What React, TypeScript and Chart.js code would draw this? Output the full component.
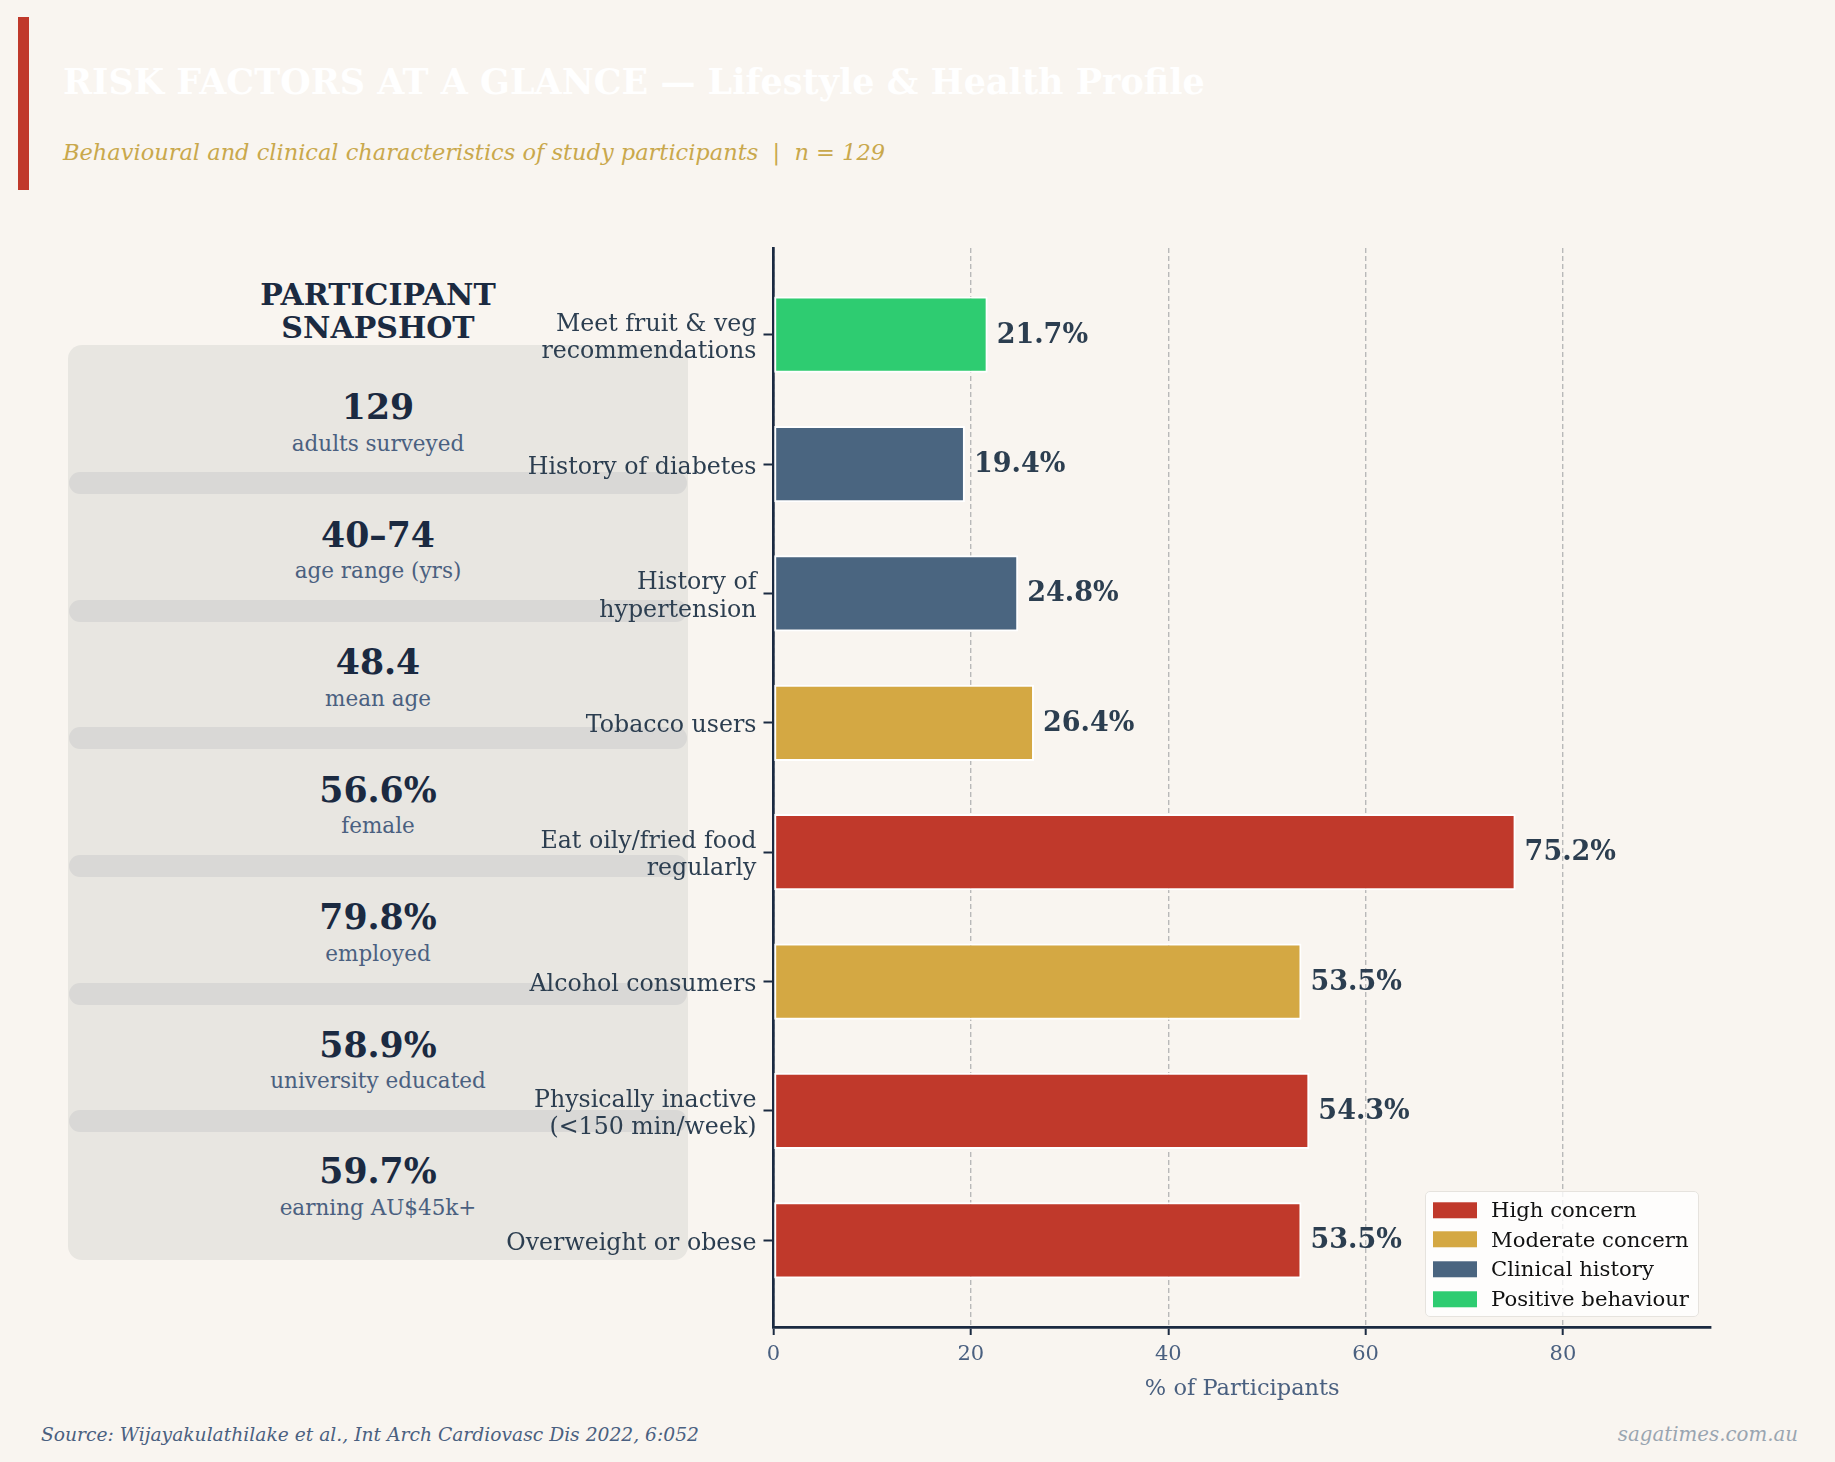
import { useEffect, useRef } from "react";
import { Chart, registerables } from "chart.js";

Chart.register(...registerables);

// Risk factor categories (top to bottom) and share of participants (%)
const categories: (string | string[])[] = [
  ["Meet fruit & veg", "recommendations"],
  "History of diabetes",
  ["History of", "hypertension"],
  "Tobacco users",
  ["Eat oily/fried food", "regularly"],
  "Alcohol consumers",
  ["Physically inactive", "(<150 min/week)"],
  "Overweight or obese",
];
const percentages = [21.7, 19.4, 24.8, 26.4, 75.2, 53.5, 54.3, 53.5];
// index into groupNames / groupColors for each category
const groupOfCategory = [3, 2, 2, 1, 0, 1, 0, 0];
const groupNames = ["High concern", "Moderate concern", "Clinical history", "Positive behaviour"];
const groupColors = ["#C0392B", "#D4A843", "#4A6580", "#2ECC71"];
const xTicks = [0, 20, 40, 60, 80];
const xMax = 95;

// Participant snapshot panel
const snapshotValues = ["129", "40–74", "48.4", "56.6%", "79.8%", "58.9%", "59.7%"];
const snapshotLabels = [
  "adults surveyed",
  "age range (yrs)",
  "mean age",
  "female",
  "employed",
  "university educated",
  "earning AU$45k+",
];

const FONT = "'DejaVu Serif', 'Liberation Serif', serif";
const BG = "#F9F5F0";
const NAVY = "#1B2A41";
const SLATE = "#4A6080";
const DARK = "#2C3E50";

const valueLabelPlugin = {
  id: "valueLabels",
  afterDatasetsDraw(chart: any) {
    const { ctx } = chart;
    const meta = chart.getDatasetMeta(0);
    ctx.save();
    ctx.font = `bold 27px ${FONT}`;
    ctx.fillStyle = DARK;
    ctx.textAlign = "left";
    ctx.textBaseline = "middle";
    meta.data.forEach((bar: any, i: number) => {
      ctx.fillText(`${percentages[i].toFixed(1)}%`, bar.x + 9, bar.y + 1);
    });
    ctx.restore();
  },
};

function RiskChart() {
  const ref = useRef<HTMLCanvasElement>(null);
  useEffect(() => {
    if (!ref.current) return;
    const chart = new Chart(ref.current, {
      type: "bar",
      data: {
        datasets: [
          {
            data: percentages.map((v, i) => ({ x: v, y: i })),
            backgroundColor: groupOfCategory.map((g) => groupColors[g]),
            borderColor: "#FFFFFF",
            borderWidth: 2,
            borderSkipped: false,
            barPercentage: 0.59,
            categoryPercentage: 1,
          },
        ],
      },
      options: {
        indexAxis: "y",
        animation: false,
        responsive: false,
        devicePixelRatio: 1,
        layout: { padding: { left: 473.5, right: 124, top: 248, bottom: 55 } },
        plugins: { legend: { display: false }, tooltip: { enabled: false } },
        scales: {
          x: {
            type: "linear",
            min: 0,
            max: xMax,
            afterBuildTicks: (scale: any) => {
              scale.ticks = xTicks.map((v) => ({ value: v }));
            },
            afterFit: (scale: any) => {
              scale.height = 80;
            },
            ticks: {
              color: SLATE,
              font: { family: FONT, size: 21 },
              padding: 7,
            },
            grid: {
              color: "#B9B9B9",
              lineWidth: 1.4,
              drawOnChartArea: true,
              tickColor: NAVY,
              tickLength: 8,
              tickWidth: 2,
            },
            border: { color: NAVY, width: 2.7, dash: [5, 3] },
            title: {
              display: true,
              text: "% of Participants",
              color: SLATE,
              font: { family: FONT, size: 22.5 },
              padding: { top: 4, bottom: 4 },
            },
          },
          y: {
            type: "linear",
            reverse: true,
            offset: false,
            min: -0.67,
            max: categories.length - 1 + 0.67,
            afterBuildTicks: (scale: any) => {
              scale.ticks = categories.map((_, i) => ({ value: i }));
            },
            afterFit: (scale: any) => {
              scale.width = 300;
            },
            ticks: {
              autoSkip: false,
              color: DARK,
              font: { family: FONT, size: 23.7, lineHeight: 1.15 },
              padding: 7,
              labelOffset: 3.5,
              callback: (v: any) => categories[Number(v)] as any,
            },
            grid: {
              offset: false,
              drawOnChartArea: false,
              tickColor: NAVY,
              tickLength: 10,
              tickWidth: 2,
            },
            border: { color: NAVY, width: 2.7 },
          },
        },
      } as any,
      plugins: [valueLabelPlugin],
    });
    return () => chart.destroy();
  }, []);
  return (
    <canvas
      ref={ref}
      width={1835}
      height={1462}
      style={{ position: "absolute", left: 0, top: 0, width: 1835, height: 1462, zIndex: 1 }}
    />
  );
}

export default function App() {
  const separatorYs = [483, 611, 738, 866, 994, 1121];
  const valueYs = [407, 535, 662, 790, 917, 1045, 1171];
  const labelYs = [443.5, 571, 699, 826, 954, 1081, 1208];
  const abs = (extra: any) => ({ position: "absolute" as const, ...extra });
  return (
    <div
      style={{
        position: "fixed",
        left: 0,
        top: 0,
        width: 1835,
        height: 1462,
        background: BG,
        fontFamily: FONT,
        overflow: "hidden",
      }}
    >
      {/* header */}
      <div style={abs({ left: 18, top: 17, width: 11, height: 173, background: "#C0392B" })} />
      <div
        style={abs({
          left: 63,
          top: 82,
          transform: "translateY(-50%)",
          color: "#FFFFFF",
          fontWeight: "bold",
          fontSize: 35,
          lineHeight: 1.2,
          whiteSpace: "nowrap",
        })}
      >
        RISK FACTORS AT A GLANCE — Lifestyle &amp; Health Profile
      </div>
      <div
        style={abs({
          left: 63,
          top: 152,
          transform: "translateY(-50%)",
          color: "#C9A84C",
          fontStyle: "italic",
          fontSize: 22.5,
          lineHeight: 1.2,
          whiteSpace: "pre",
        })}
      >
        {"Behavioural and clinical characteristics of study participants  |  n = 129"}
      </div>

      {/* participant snapshot panel */}
      <div
        style={abs({
          left: 68,
          width: 620,
          top: 311,
          transform: "translateY(-50%)",
          textAlign: "center",
          color: NAVY,
          fontWeight: "bold",
          fontSize: 30,
          lineHeight: "33px",
        })}
      >
        PARTICIPANT
        <br />
        SNAPSHOT
      </div>
      <div style={abs({ left: 68, top: 345, width: 620, height: 915, background: "#E8E6E1", borderRadius: 14 })} />
      {separatorYs.map((y, i) => (
        <div
          key={`s${i}`}
          style={abs({ left: 69, top: y - 11, width: 618, height: 22, background: "#D9D8D6", borderRadius: 11 })}
        />
      ))}
      {snapshotValues.map((v, i) => (
        <div
          key={`v${i}`}
          style={abs({
            left: 68,
            width: 620,
            top: valueYs[i],
            transform: "translateY(-50%)",
            textAlign: "center",
            color: NAVY,
            fontWeight: "bold",
            fontSize: 34.7,
            lineHeight: 1.2,
          })}
        >
          {v}
        </div>
      ))}
      {snapshotLabels.map((t, i) => (
        <div
          key={`l${i}`}
          style={abs({
            left: 68,
            width: 620,
            top: labelYs[i],
            transform: "translateY(-50%)",
            textAlign: "center",
            color: SLATE,
            fontSize: 21.5,
            lineHeight: 1.2,
          })}
        >
          {t}
        </div>
      ))}

      <RiskChart />

      {/* legend */}
      <div
        style={abs({
          left: 1425,
          top: 1191,
          width: 274,
          height: 126,
          zIndex: 2,
          background: "rgba(255,255,255,0.8)",
          border: "1px solid #E6E3DE",
          borderRadius: 5,
          boxSizing: "border-box",
        })}
      >
        {groupNames.map((name, i) => (
          <div
            key={name}
            style={abs({ left: 7, top: 18 + i * 29.7, transform: "translateY(-50%)", display: "flex", alignItems: "center" })}
          >
            <span style={{ display: "inline-block", width: 44, height: 16, background: groupColors[i] }} />
            <span style={{ marginLeft: 14, fontSize: 21.2, color: "#111111", lineHeight: 1.2, whiteSpace: "nowrap" }}>
              {name}
            </span>
          </div>
        ))}
      </div>

      {/* footer */}
      <div
        style={abs({
          left: 41,
          top: 1435,
          transform: "translateY(-50%)",
          color: SLATE,
          fontStyle: "italic",
          fontSize: 18.7,
          lineHeight: 1.2,
          whiteSpace: "nowrap",
        })}
      >
        Source: Wijayakulathilake et al., Int Arch Cardiovasc Dis 2022, 6:052
      </div>
      <div
        style={abs({
          right: 1835 - 1798,
          top: 1435,
          transform: "translateY(-50%)",
          color: "#9AA5B1",
          fontStyle: "italic",
          fontSize: 19.8,
          lineHeight: 1.2,
          whiteSpace: "nowrap",
        })}
      >
        sagatimes.com.au
      </div>
    </div>
  );
}
